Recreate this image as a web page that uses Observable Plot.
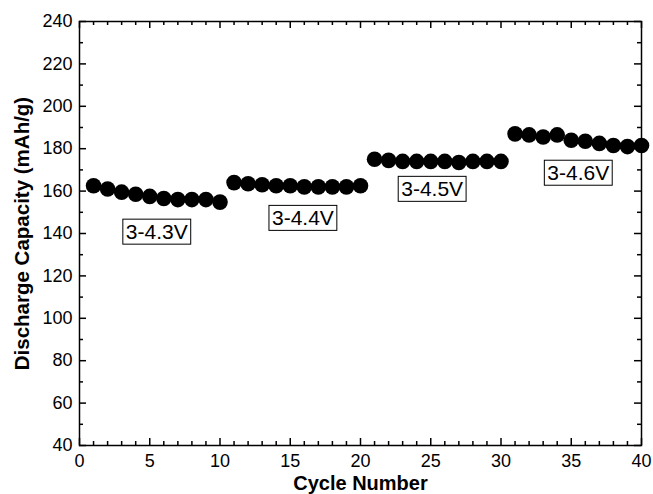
<!DOCTYPE html>
<html><head><meta charset="utf-8">
<script src="https://cdn.jsdelivr.net/npm/d3@7"></script>
<script src="https://cdn.jsdelivr.net/npm/@observablehq/plot@0.6"></script>
<style>html,body{margin:0;padding:0;background:#fff} #chart svg{display:block}</style>
</head><body><div id="chart"></div><script>
const cycles = [1,2,3,4,5,6,7,8,9,10,11,12,13,14,15,16,17,18,19,20,21,22,23,24,25,26,27,28,29,30,31,32,33,34,35,36,37,38,39,40];
const capacity = [162.5,161,159.5,158.5,157.5,156.5,156,156,156,154.8,
                  164,163.5,163,162.5,162.5,162,162,162,162,162.5,
                  175,174.5,174,174,174,174,173.5,174,174,174,
                  187,186.5,185.5,186.5,184,183.5,182.5,181.5,181,181.5];
const windowLabels = ["3-4.3V","3-4.4V","3-4.5V","3-4.6V"];
const windowLabelX = [5.5,15.9,25.1,35.5];
const windowLabelY = [140.5,147,160.7,168.3];
const xTicks = [0,5,10,15,20,25,30,35,40];
const xMinorTicks = [1,2,3,4,6,7,8,9,11,12,13,14,16,17,18,19,21,22,23,24,26,27,28,29,31,32,33,34,36,37,38,39];
const yTicks = [40,60,80,100,120,140,160,180,200,220,240];
const yMinorTicks = [50,70,90,110,130,150,170,190,210,230];
const xTitle = "Cycle Number";
const yTitle = "Discharge Capacity (mAh/g)";

const W=653,H=494,mL=79,mR=12,mT=21,mB=49;
const xDom=[0,40], yDom=[40,240];
const pxX=(xDom[1]-xDom[0])/(W-mL-mR), pxY=(yDom[1]-yDom[0])/(H-mT-mB);
const major=7, minor=4;
const rows = cycles.map((c,i)=>({cycle:c, cap:capacity[i]}));
const labels = windowLabels.map((t,i)=>({t, x:windowLabelX[i], y:windowLabelY[i]}));
const tk = {stroke:"#000", strokeWidth:1.5};
const plot = Plot.plot({
  width:W, height:H, marginLeft:mL, marginRight:mR, marginTop:mT, marginBottom:mB,
  style:{fontFamily:"'Liberation Sans', Arial, sans-serif", background:"#fff", color:"#000"},
  x:{domain:xDom}, y:{domain:yDom},
  marks:[
    Plot.ruleX(xTicks,{y1:yDom[0], y2:yDom[0]+major*pxY, ...tk}),
    Plot.ruleX(xTicks,{y1:yDom[1], y2:yDom[1]-major*pxY, ...tk}),
    Plot.ruleX(xMinorTicks,{y1:yDom[0], y2:yDom[0]+minor*pxY, ...tk}),
    Plot.ruleX(xMinorTicks,{y1:yDom[1], y2:yDom[1]-minor*pxY, ...tk}),
    Plot.ruleY(yTicks,{x1:xDom[0], x2:xDom[0]+major*pxX, ...tk}),
    Plot.ruleY(yTicks,{x1:xDom[1], x2:xDom[1]-major*pxX, ...tk}),
    Plot.ruleY(yMinorTicks,{x1:xDom[0], x2:xDom[0]+minor*pxX, ...tk}),
    Plot.ruleY(yMinorTicks,{x1:xDom[1], x2:xDom[1]-minor*pxX, ...tk}),
    Plot.frame({stroke:"#000", strokeWidth:1.5}),
    Plot.axisX(xTicks,{tickSize:0, tickPadding:9, fontSize:18, label:null}),
    Plot.axisY(yTicks,{tickSize:0, tickPadding:7, fontSize:18, label:null}),
    Plot.text([xTitle],{frameAnchor:"bottom", dy:38, fontSize:20, fontWeight:"bold", lineAnchor:"middle", textAnchor:"middle"}),
    Plot.text([yTitle],{frameAnchor:"left", dx:-57, rotate:-90, fontSize:20.5, fontWeight:"bold", lineAnchor:"middle", textAnchor:"middle"}),
    Plot.dot(rows,{x:"cycle", y:"cap", r:7.8, fill:"#000", stroke:null}),
    Plot.text(labels,{x:"x", y:"y", text:"t", fontSize:21, lineAnchor:"middle", textAnchor:"middle"})
  ]
});
document.getElementById("chart").appendChild(plot);
plot.querySelectorAll('text').forEach(t=>{
  if (!windowLabels.includes(t.textContent)) return;
  const b=t.getBBox();
  const r=document.createElementNS("http://www.w3.org/2000/svg","rect");
  r.setAttribute("x",b.x-3); r.setAttribute("y",b.y-1);
  r.setAttribute("width",b.width+6); r.setAttribute("height",b.height+2);
  r.setAttribute("fill","#fff"); r.setAttribute("stroke","#000"); r.setAttribute("stroke-width","1");
  const tr=t.getAttribute("transform"); if(tr) r.setAttribute("transform",tr);
  t.parentNode.insertBefore(r,t);
});
</script></body></html>
